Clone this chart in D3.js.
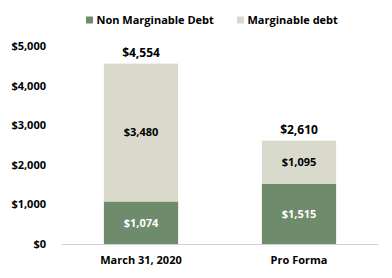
<!DOCTYPE html>
<html><head><meta charset="utf-8">
<script src="https://cdn.jsdelivr.net/npm/d3@7"></script>
<style>body{margin:0;background:#fff}</style>
</head><body>
<svg id="c" width="392" height="278"></svg>
<script>
const categories = ["March 31, 2020", "Pro Forma"];
const nonMarginable = [1074, 1515];
const marginable = [3480, 1095];
const totals = [4554, 2610];
const seriesNames = ["Non Marginable Debt", "Marginable debt"];
const yTicks = [0, 1000, 2000, 3000, 4000, 5000];

const colors = ["#6e8b6c", "#d9dacb"];
const font = "'Open Sans', sans-serif";
const svg = d3.select("#c");
const x = d3.scaleBand().domain(categories).range([62, 378]).paddingInner(0.53).paddingOuter(0.265);
const y = d3.scaleLinear().domain([0, 5000]).range([244, 46]);
const fmt = v => "$" + d3.format(",")(v);

const data = categories.map((c, i) => ({cat: c, nm: nonMarginable[i], m: marginable[i]}));
const stack = d3.stack().keys(["nm", "m"])(data);

svg.append("g").selectAll("g").data(stack).join("g")
  .attr("fill", (d, i) => colors[i])
  .selectAll("rect").data(d => d).join("rect")
  .attr("x", d => x(d.data.cat)).attr("width", x.bandwidth())
  .attr("y", d => y(d[1])).attr("height", d => y(d[0]) - y(d[1]));

// baseline
svg.append("line").attr("x1", 62).attr("x2", 378).attr("y1", y(0) + 0.5).attr("y2", y(0) + 0.5)
  .attr("stroke", "#d0d0d0").attr("stroke-width", 1);

// y axis labels
const yAxis = d3.axisLeft(y).tickValues(yTicks).tickFormat(fmt).tickSize(0).tickPadding(0);
const ga = svg.append("g").attr("transform", "translate(46,0)").call(yAxis);
ga.select(".domain").remove();
ga.selectAll("text").attr("font-family", font).attr("font-weight", "bold").attr("font-size", 11).attr("fill", "#000");

// x axis labels
const xAxis = d3.axisBottom(x).tickSize(0).tickPadding(0);
const gx = svg.append("g").attr("transform", "translate(0,256)").call(xAxis);
gx.select(".domain").remove();
gx.selectAll("text").attr("font-family", font).attr("font-weight", "bold").attr("font-size", 11).attr("fill", "#000");

// segment labels
stack.forEach((s, si) => {
  svg.append("g").selectAll("text").data(s).join("text")
    .attr("x", d => x(d.data.cat) + x.bandwidth() / 2)
    .attr("y", d => (y(d[0]) + y(d[1])) / 2)
    .attr("dy", "0.35em").attr("text-anchor", "middle")
    .attr("font-family", font).attr("font-weight", "bold").attr("font-size", 11)
    .attr("fill", si === 0 ? "#fff" : "#000")
    .text(d => fmt(d[1] - d[0]));
});

// totals
svg.append("g").selectAll("text").data(data).join("text")
  .attr("x", d => x(d.cat) + x.bandwidth() / 2)
  .attr("y", (d, i) => y(totals[i]) - 11)
  .attr("dy", "0.35em").attr("text-anchor", "middle")
  .attr("font-family", font).attr("font-weight", "bold").attr("font-size", 12)
  .attr("fill", "#000").text((d, i) => fmt(totals[i]));

// legend
const legX = [86, 237];
seriesNames.forEach((n, i) => {
  const g = svg.append("g").attr("transform", `translate(${legX[i]},20)`);
  g.append("rect").attr("x", 0).attr("y", -3.5).attr("width", 7).attr("height", 7).attr("fill", colors[i]);
  g.append("text").attr("x", 10.5).attr("y", 0).attr("dy", "0.35em")
    .attr("font-family", font).attr("font-weight", "bold").attr("font-size", 11).attr("fill", "#000").text(n);
});
</script>
</body></html>
